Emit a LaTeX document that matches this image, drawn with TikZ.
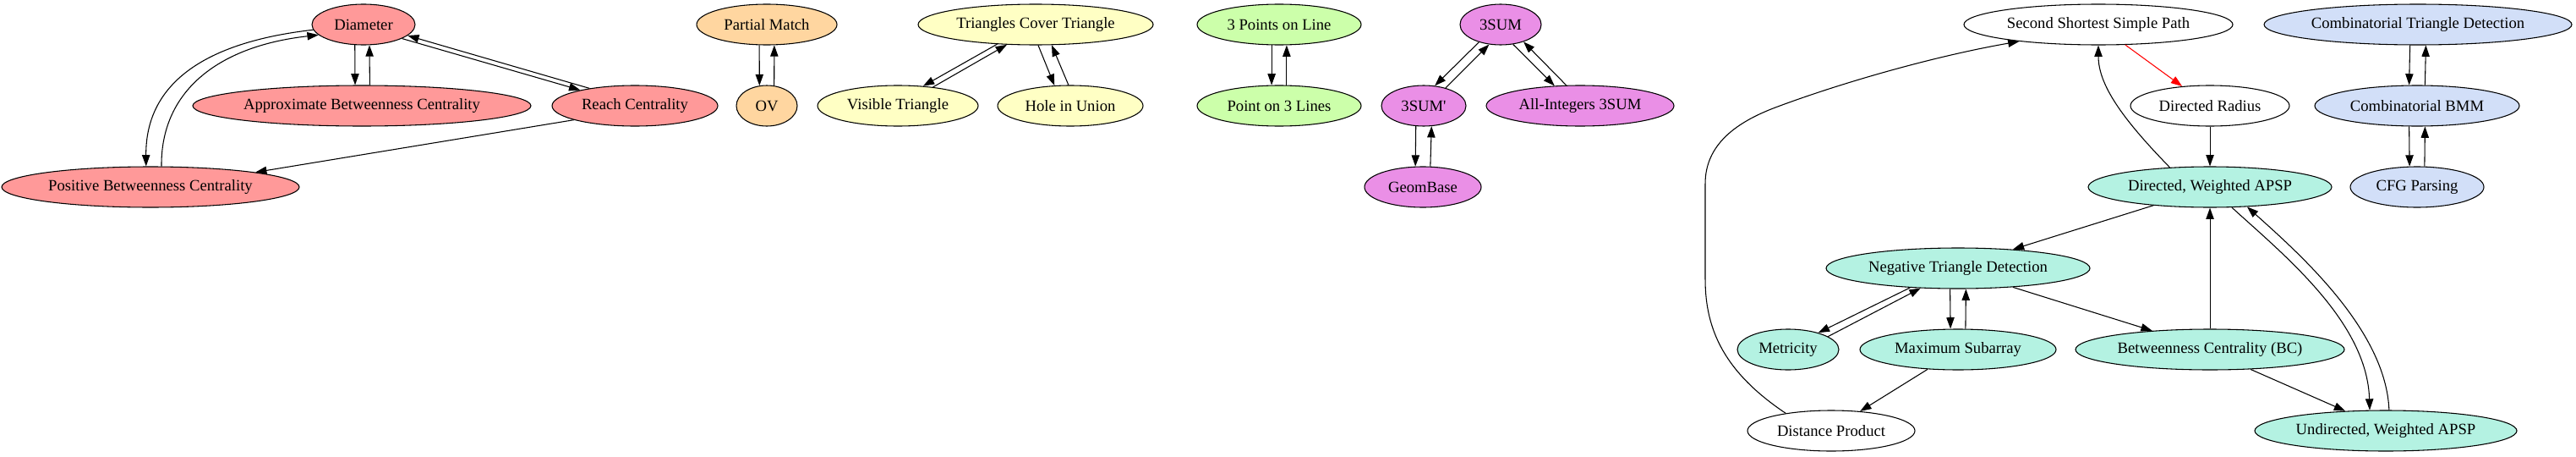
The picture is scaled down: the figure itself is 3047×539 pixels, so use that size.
\documentclass[tikz,border=0pt]{standalone}
\usepackage{fontspec}
\setmainfont{Liberation Serif}[Ligatures=TeXOff]
\usetikzlibrary{arrows.meta,shapes.geometric}
\definecolor{cred}{HTML}{FF9999}
\definecolor{corange}{HTML}{FFD6A0}
\definecolor{cyellow}{HTML}{FFFFC4}
\definecolor{cgreen}{HTML}{CCFFAA}
\definecolor{cmag}{HTML}{EA8FE6}
\definecolor{cblue}{HTML}{D2DFF8}
\definecolor{cteal}{HTML}{B4F2E2}
\tikzset{
  nd/.style={ellipse, draw, line width=0.8pt, inner sep=0pt, minimum height=36pt,
    font=\fontsize{14pt}{16pt}\selectfont},
  hw/.style={minimum width=#1*1.5pt},
  arr/.style={-{Triangle[length=10pt,width=7pt]}, line width=0.8pt},
}
\begin{document}
\begin{tikzpicture}[x=0.75pt,y=-0.75pt]
\useasboundingbox (0,0) rectangle (3047,539);
% red cluster
\node[nd,hw=61,fill=cred] (dia) at (430,29) {Diameter};
\node[nd,hw=200,fill=cred] (abc) at (428,125) {Approximate Betweenness Centrality};
\node[nd,hw=98,fill=cred] (reach) at (751,125) {Reach Centrality};
\node[nd,hw=176,fill=cred] (posbc) at (178,221) {Positive Betweenness Centrality};
% orange
\node[nd,hw=83,fill=corange] (pm) at (907,29) {Partial Match};
\node[nd,hw=36,fill=corange] (ov) at (907,125) {OV};
% yellow
\node[nd,hw=139,fill=cyellow] (tct) at (1225,29) {Triangles Cover Triangle};
\node[nd,hw=95,fill=cyellow] (vt) at (1062,125) {Visible Triangle};
\node[nd,hw=86,fill=cyellow] (hu) at (1266,125) {Hole in Union};
% green
\node[nd,hw=97,fill=cgreen] (tpl) at (1513,29) {3 Points on Line};
\node[nd,hw=97,fill=cgreen] (pl3) at (1513,125) {Point on 3 Lines};
% magenta
\node[nd,hw=48,fill=cmag] (tsum) at (1775,29) {3SUM};
\node[nd,hw=50,fill=cmag] (tsump) at (1684,125) {3SUM'};
\node[nd,hw=111,fill=cmag] (ai3) at (1869,125) {All-Integers 3SUM};
\node[nd,hw=69,fill=cmag] (gb) at (1683,221) {GeomBase};
% right
\node[nd,hw=159,fill=white] (sssp) at (2482,29) {Second Shortest Simple Path};
\node[nd,hw=182,fill=cblue] (ctd) at (2860,29) {Combinatorial Triangle Detection};
\node[nd,hw=94,fill=white] (dr) at (2614,125) {Directed Radius};
\node[nd,hw=121,fill=cblue] (cbmm) at (2859,125) {Combinatorial BMM};
\node[nd,hw=144,fill=cteal] (dwa) at (2614,221) {Directed, Weighted APSP};
\node[nd,hw=79,fill=cblue] (cfg) at (2859,221) {CFG Parsing};
\node[nd,hw=156,fill=cteal] (ntd) at (2316,317) {Negative Triangle Detection};
\node[nd,hw=60,fill=cteal] (met) at (2115,413) {Metricity};
\node[nd,hw=116,fill=cteal] (ms) at (2316,413) {Maximum Subarray};
\node[nd,hw=159,fill=cteal] (bc) at (2614,413) {Betweenness Centrality (BC)};
\node[nd,hw=99,fill=white] (dp) at (2166,509) {Distance Product};
\node[nd,hw=155,fill=cteal] (uwa) at (2822,509) {Undirected, Weighted APSP};
% red cluster edges
\draw[arr] (dia.247) -- (abc.108);
\draw[arr] (abc.69) -- (dia.286);
\draw[arr] (dia.340) -- (reach.164);
\draw[arr] (reach.159) -- (dia.346);
\draw[arr] (dia.186) .. controls (240,50) and (172,100) .. (posbc.102);
\draw[arr] (posbc.62) .. controls (190,110) and (255,55) .. (dia.193);
\draw[arr] (reach.193) -- (posbc.8);
% orange
\draw[arr] (pm.250) -- (ov.110);
\draw[arr] (ov.70) -- (pm.290);
% yellow
\draw[arr] (tct.207) -- (vt.38);
\draw[arr] (vt.28) -- (tct.215);
\draw[arr] (tct.277) -- (hu.128);
\draw[arr] (hu.95) -- (tct.308);
% green
\draw[arr] (tpl.250) -- (pl3.110);
\draw[arr] (pl3.70) -- (tpl.290);
% magenta
\draw[arr] (tsum.219) -- (tsump.61);
\draw[arr] (tsump.39) -- (tsum.240);
\draw[arr] (tsum.302) -- (ai3.142);
\draw[arr] (ai3.124) -- (tsum.323);
\draw[arr] (tsump.249) -- (gb.110);
\draw[arr] (gb.70) -- (tsump.291);
% blue
\draw[arr] (ctd.249) -- (cbmm.111);
\draw[arr] (cbmm.69) -- (ctd.291);
\draw[arr] (cbmm.249) -- (cfg.110);
\draw[arr] (cfg.70) -- (cbmm.291);
% right cluster
\draw[arr, red, -{Triangle[length=10pt,width=7pt,fill=red]}] (sssp.323) -- (dr.145);
\draw[arr] (dwa.154) .. controls (2510,140) and (2482,100) .. (sssp.270);
\draw[arr] (dr.270) -- (dwa.90);
\draw[arr] (dwa.198) -- (ntd.19);
\draw[arr] (dwa.317) .. controls (2700,300) and (2800,380) .. (uwa.128);
\draw[arr] (uwa.81) .. controls (2822,390) and (2720,300) .. (dwa.332);
\draw[arr] (bc.90) -- (dwa.270);
\draw[arr] (ntd.202) -- (met.29);
\draw[arr] (met.18) -- (ntd.208);
\draw[arr] (ntd.249) -- (ms.110);
\draw[arr] (ms.70) -- (ntd.291);
\draw[arr] (ntd.341) -- (bc.162);
\draw[arr] (bc.334) -- (uwa.154);
\draw[arr] (ms.213) -- (dp.34);
\draw[arr] (dp.159) .. controls (2040,440) and (2017,390) .. (2017,330) -- (2017,217)
  .. controls (2017,170) and (2055,144) .. (2100,127)
  .. controls (2180,97) and (2290,66) .. (sssp.192);
\end{tikzpicture}
\end{document}
